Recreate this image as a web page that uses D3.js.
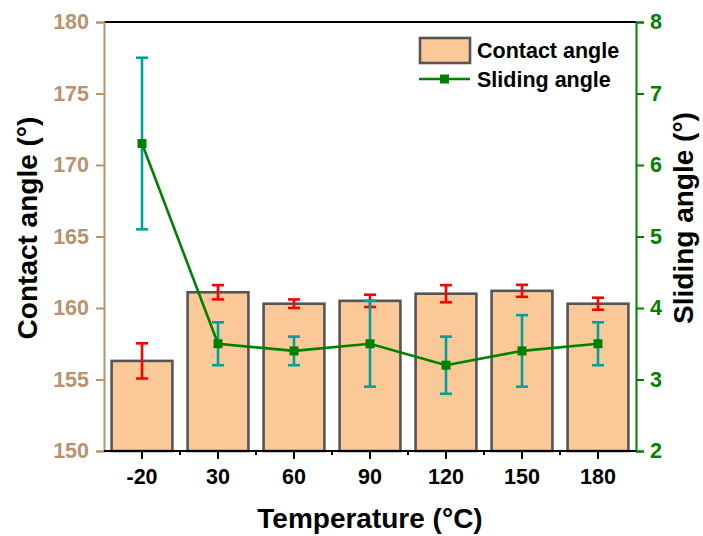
<!DOCTYPE html>
<html>
<head>
<meta charset="utf-8">
<script src="https://cdn.jsdelivr.net/npm/d3@7"></script>
<style>
  body { margin: 0; background: #fff; }
  svg text { font-family: "Liberation Sans", Arial, sans-serif; font-weight: bold; }
</style>
</head>
<body>
<svg id="chart" width="703" height="536"></svg>
<script>
// data
const temps = ["-20", "30", "60", "90", "120", "150", "180"];
const contact = [156.3, 161.1, 160.3, 160.5, 161.0, 161.2, 160.3];
const contactErr = [1.23, 0.5, 0.3, 0.43, 0.6, 0.42, 0.42];
const sliding = [6.3, 3.5, 3.4, 3.5, 3.2, 3.4, 3.5];
const slidingErr = [1.2, 0.3, 0.2, 0.6, 0.4, 0.5, 0.3];

const leftTicks = [150, 155, 160, 165, 170, 175, 180];
const rightTicks = [2, 3, 4, 5, 6, 7, 8];

const tan = "#b8936c", green = "#008000", teal = "#00a0a0";

const svg = d3.select("#chart");
const m = {left: 104, right: 636, top: 22, bottom: 451};

const x = d3.scaleBand().domain(temps).range([m.left, m.right]).paddingInner(0.2).paddingOuter(0.1);
const yL = d3.scaleLinear().domain([150, 180]).range([m.bottom, m.top]);
const yR = d3.scaleLinear().domain([2, 8]).range([m.bottom, m.top]);
const cx = t => x(t) + x.bandwidth() / 2;

// bars
svg.append("g")
  .selectAll("rect")
  .data(temps)
  .join("rect")
    .attr("x", d => x(d))
    .attr("y", (d, i) => yL(contact[i]))
    .attr("width", x.bandwidth())
    .attr("height", (d, i) => yL(150) - yL(contact[i]))
    .attr("fill", "#fbc997")
    .attr("stroke", "#555")
    .attr("stroke-width", 2.6);

// error bars helper
function errBars(vals, errs, y, color) {
  const g = svg.append("g").attr("stroke", color).attr("stroke-width", 2.6);
  temps.forEach((t, i) => {
    const c = cx(t), lo = y(vals[i] - errs[i]), hi = y(vals[i] + errs[i]);
    g.append("line").attr("x1", c).attr("x2", c).attr("y1", lo).attr("y2", hi);
    g.append("line").attr("x1", c - 6).attr("x2", c + 6).attr("y1", lo).attr("y2", lo);
    g.append("line").attr("x1", c - 6).attr("x2", c + 6).attr("y1", hi).attr("y2", hi);
  });
}
errBars(contact, contactErr, yL, "#ff0000");
errBars(sliding, slidingErr, yR, teal);

// sliding line
svg.append("path")
  .datum(temps)
  .attr("fill", "none")
  .attr("stroke", green)
  .attr("stroke-width", 2.6)
  .attr("d", d3.line().x(d => cx(d)).y((d, i) => yR(sliding[i])));

svg.append("g")
  .selectAll("rect")
  .data(temps)
  .join("rect")
    .attr("x", d => cx(d) - 4.5)
    .attr("y", (d, i) => yR(sliding[i]) - 4.5)
    .attr("width", 9)
    .attr("height", 9)
    .attr("fill", green);

// top frame
svg.append("line")
  .attr("x1", m.left).attr("x2", m.right)
  .attr("y1", m.top).attr("y2", m.top)
  .attr("stroke", "#000").attr("stroke-width", 2);

function styleText(g, color) {
  g.selectAll("text").attr("fill", color).attr("font-size", 21.5).attr("font-weight", "bold")
    .attr("font-family", "Liberation Sans, Arial, sans-serif");
}

// left axis
const gL = svg.append("g").attr("transform", `translate(${m.left},0)`);
gL.call(d3.axisLeft(yL).tickValues(d3.range(150, 180.1, 2.5)).tickSize(4).tickFormat(""));
gL.call(d3.axisLeft(yL).tickValues(leftTicks).tickSize(8).tickPadding(7).tickFormat(d3.format("d")));
gL.selectAll("path,line").attr("stroke", tan).attr("stroke-width", 2);
styleText(gL, tan);

// right axis
const gR = svg.append("g").attr("transform", `translate(${m.right},0)`);
gR.call(d3.axisRight(yR).tickValues(d3.range(2, 8.01, 0.5)).tickSize(4).tickFormat(""));
gR.call(d3.axisRight(yR).tickValues(rightTicks).tickSize(8).tickPadding(6).tickFormat(d3.format("d")));
gR.selectAll("path,line").attr("stroke", green).attr("stroke-width", 2);
styleText(gR, green);

// bottom axis
const gB = svg.append("g").attr("transform", `translate(0,${m.bottom})`);
gB.call(d3.axisBottom(x).tickSize(8).tickPadding(10));
const edges = temps.slice(1).map(t => x(t) - x.step() * x.paddingInner() / 2);
gB.selectAll(".minor").data(edges).join("line")
  .attr("class", "minor")
  .attr("x1", d => d).attr("x2", d => d).attr("y1", 0).attr("y2", 4);
gB.selectAll("path,line").attr("stroke", "#000").attr("stroke-width", 2);
gB.select(".domain").attr("d", `M${m.left},0H${m.right}`);
styleText(gB, "#000");

// axis titles
svg.append("text")
  .attr("transform", "translate(37,228) rotate(-90)")
  .attr("text-anchor", "middle")
  .attr("font-size", 28)
  .text("Contact angle (°)");

svg.append("text")
  .attr("transform", "translate(693,218) rotate(-90)")
  .attr("text-anchor", "middle")
  .attr("font-size", 28)
  .text("Sliding angle (°)");

svg.append("text")
  .attr("x", 370).attr("y", 528)
  .attr("text-anchor", "middle")
  .attr("font-size", 28)
  .text("Temperature (°C)");

// legend
const lg = svg.append("g").attr("font-size", 21.5);
lg.append("rect").attr("x", 420).attr("y", 38).attr("width", 50).attr("height", 25)
  .attr("fill", "#fbc997").attr("stroke", "#555").attr("stroke-width", 2.6);
lg.append("text").attr("x", 477).attr("y", 58).text("Contact angle");
lg.append("line").attr("x1", 419).attr("x2", 470).attr("y1", 79).attr("y2", 79)
  .attr("stroke", green).attr("stroke-width", 2.6);
lg.append("rect").attr("x", 440).attr("y", 74.5).attr("width", 9).attr("height", 9).attr("fill", green);
lg.append("text").attr("x", 477).attr("y", 87).text("Sliding angle");
</script>
</body>
</html>
